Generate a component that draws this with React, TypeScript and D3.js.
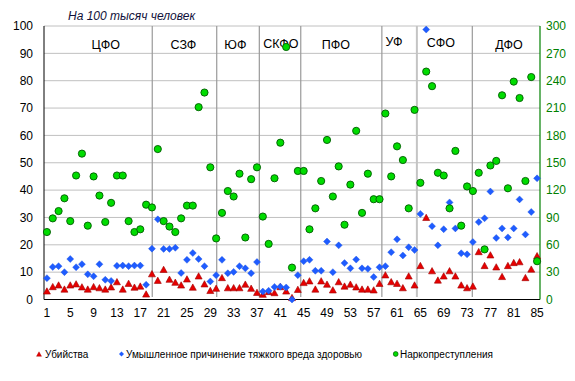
import React from "react";
import * as d3 from "d3";

// Regions (federal districts) and their label positions in category units
const regionNames = ["ЦФО", "СЗФ", "ЮФ", "СКФО", "ПФО", "УФ", "СФО", "ДФО"];
const regionCenters = [11.1, 24.4, 33.3, 41.1, 50.5, 60.5, 68.5, 80.2];
const dividerPositions = [19.05, 30.1, 37.4, 44.5, 58.4, 64.4, 73.9];

const categories = d3.range(1, 86);
const xTickLabels = d3.range(1, 86, 4);
const leftTicks = d3.range(0, 101, 10);
const rightTicks = d3.range(0, 301, 30);

// Убийства (left axis)
const murders = [
  2.9, 4.5, 5.1, 3.6, 5.1, 5.5, 4.4, 3.6, 4.5, 4.1,
  3.6, 4.4, 6.3, 3.6, 5.7, 4.3, 4.7, 1.8, 9.2, 6.8,
  10.8, 7.2, 6.1, 5.1, 7.3, 4.3, 8.4, 5.5, 3.1, 3.9,
  7.8, 4.1, 4.1, 4.1, 5.4, 3.9, 2.4, 1.7, 2.7, 2.3,
  4.5, 2.9, 0.5, 3.5, 6.0, 6.6, 3.6, 6.6, 5.4, 3.3,
  6.3, 4.7, 5.4, 4.4, 3.6, 3.6, 3.3, 5.7, 8.8, 6.3,
  5.7, 4.1, 8.4, 5.1, 12.2, 29.8, 10.3, 6.9, 8.4, 10.3,
  8.4, 5.1, 4.1, 4.7, 17.3, 12.2, 16.1, 11.7, 8.2, 12.2,
  13.3, 13.6, 7.8, 10.9, 15.8,
];

// Умышленное причинение тяжкого вреда здоровью (left axis)
const grievous = [
  7.8, 11.9, 12.2, 10.0, 14.8, 11.8, 12.9, 9.2, 8.5, 12.9,
  7.2, 6.8, 12.3, 12.4, 12.2, 12.4, 12.4, 5.4, 18.6, 29.3,
  18.5, 18.5, 18.9, 9.7, 14.5, 17.0, 14.8, 12.2, 6.6, 8.9,
  14.5, 9.6, 10.1, 12.2, 11.4, 9.6, 13.7, 2.9, 3.2, 4.6,
  4.7, 4.4, 0, 8.9, 14.0, 14.5, 10.5, 10.5, 21.2, 10.0,
  19.8, 13.3, 11.4, 14.6, 11.4, 11.2, 8.2, 11.8, 12.2, 17.3,
  22.0, 16.1, 19.1, 18.1, 31.3, 98.7, 26.8, 19.8, 25.7, 35.5,
  26.0, 16.9, 16.5, 21.0, 28.3, 29.7, 39.5, 22.5, 26.0, 22.7,
  26.0, 36.6, 23.8, 32.0, 44.3,
];

// Наркопреступления (right axis)
const drugs = [
  74, 89, 97, 111, 86, 136, 160, 81, 135, 114,
  85, 106, 136, 136, 86, 74, 77, 104, 101, 165,
  86, 80, 74, 89, 103, 103, 211, 227, 145, 67,
  95, 119, 113, 138, 68, 132, 145, 91, 61, 133,
  172, 277, 35, 141, 141, 77, 100, 130, 175, 113,
  146, 82, 126, 185, 95, 138, 110, 110, 204, 135,
  168, 153, 100, 208, 128, 250, 234, 139, 136, 100,
  163, 81, 124, 119, 139, 55, 147, 152, 224, 122,
  239, 221, 130, 244, 42,
];

const seriesNames = [
  "Убийства",
  "Умышленное причинение тяжкого вреда здоровью",
  "Наркопреступления",
];

const W = 575;
const H = 381;
const L = 44;
const R = 540;
const T = 26;
const B = 299.5;
const FONT = "Arial, 'Liberation Sans', sans-serif";

const RED = "#e60000";
const RED_STROKE = "#a00000";
const BLUE = "#1f5cff";
const GREEN = "#00dc00";
const GREEN_STROKE = "#005a00";
const AXIS_GREEN = "#008000";

function tri(cx: number, cy: number, s: number) {
  const h = s * 0.9;
  return `M${cx},${cy - h * 0.6} L${cx + s / 2},${cy + h * 0.4} L${cx - s / 2},${cy + h * 0.4} Z`;
}
function diamond(cx: number, cy: number, s: number) {
  const r = s / 2;
  return `M${cx},${cy - r} L${cx + r},${cy} L${cx},${cy + r} L${cx - r},${cy} Z`;
}

export default function App() {
  const x = d3.scaleLinear().domain([0.5, 85.5]).range([L, R]);
  const yL = d3.scaleLinear().domain([0, 100]).range([B, T]);
  const yR = d3.scaleLinear().domain([0, 300]).range([B, T]);

  return (
    <div style={{ position: "fixed", left: 0, top: 0 }}>
      <svg width={W} height={H} style={{ display: "block", background: "#fff" }} fontFamily={FONT}>
        {/* gridlines */}
        {leftTicks.filter((t) => t > 0).map((t) => (
          <line key={"g" + t} x1={L} x2={R} y1={yL(t)} y2={yL(t)} stroke="#c0c0c0" strokeWidth={1} />
        ))}
        {/* dividers */}
        {dividerPositions.map((p, i) => (
          <line
            key={"d" + i}
            x1={x(p)}
            x2={x(p)}
            y1={T}
            y2={297}
            stroke={i === 5 ? "#c4c4c4" : "#9a9a9a"}
            strokeWidth={i === 5 ? 2 : 1.2}
          />
        ))}
        {/* axes */}
        <line x1={L} x2={L} y1={T} y2={B} stroke="#000" strokeWidth={1} />
        <line x1={L} x2={R} y1={B} y2={B} stroke="#000" strokeWidth={1} />
        <line x1={R} x2={R} y1={T} y2={B} stroke={AXIS_GREEN} strokeWidth={1.2} />

        {/* left tick labels */}
        {leftTicks.map((t) => (
          <text key={"lt" + t} x={33} y={yL(t)} dy="0.36em" textAnchor="end" fontSize={12} fill="#000">
            {t}
          </text>
        ))}
        {/* right tick labels */}
        {rightTicks.map((t) => (
          <text key={"rt" + t} x={546} y={yR(t)} dy="0.36em" textAnchor="start" fontSize={12} fill={AXIS_GREEN}>
            {t}
          </text>
        ))}
        {/* x tick labels */}
        {xTickLabels.map((c) => (
          <text key={"xt" + c} x={x(c)} y={313} dy="0.36em" textAnchor="middle" fontSize={12} fill="#000">
            {c}
          </text>
        ))}

        {/* title */}
        <text x={68} y={20} fontSize={12} fontStyle="italic" fill="#10103a">
          На 100 тысяч человек
        </text>

        {/* region labels */}
        {regionNames.map((n, i) => (
          <text
            key={"r" + n}
            x={x(regionCenters[i])}
            y={i === 3 ? 43 : i === 5 ? 41 : i === 6 ? 42 : 44}
            dy="0.36em"
            textAnchor="middle"
            fontSize={12.5}
            fill="#000"
          >
            {n}
          </text>
        ))}

        {/* series: murders */}
        {categories.map((c, i) => (
          <path key={"m" + c} d={tri(x(c), yL(murders[i]), 7)} fill={RED} stroke={RED_STROKE} strokeWidth={0.6} />
        ))}
        {/* series: grievous harm */}
        {categories.map((c, i) => (
          <path key={"b" + c} d={diamond(x(c), yL(grievous[i]), 7)} fill={BLUE} stroke="#1a50e0" strokeWidth={0.4} />
        ))}
        {/* series: drugs */}
        {categories.map((c, i) => (
          <circle key={"g" + c} cx={x(c)} cy={yR(drugs[i])} r={3.6} fill={GREEN} stroke={GREEN_STROKE} strokeWidth={0.9} />
        ))}

        {/* legend */}
        <path d={tri(39, 354.5, 5)} fill={RED} stroke={RED_STROKE} strokeWidth={0.4} />
        <text x={45} y={354} dy="0.36em" fontSize={10} fill="#000">{seriesNames[0]}</text>
        <path d={diamond(121.5, 354, 5)} fill={BLUE} />
        <text x={126} y={354} dy="0.36em" fontSize={10} fill="#000">{seriesNames[1]}</text>
        <circle cx={395.7} cy={354} r={2.4} fill={GREEN} stroke={GREEN_STROKE} strokeWidth={0.7} />
        <text x={400} y={354} dy="0.36em" fontSize={10} fill="#000">{seriesNames[2]}</text>
      </svg>
    </div>
  );
}
